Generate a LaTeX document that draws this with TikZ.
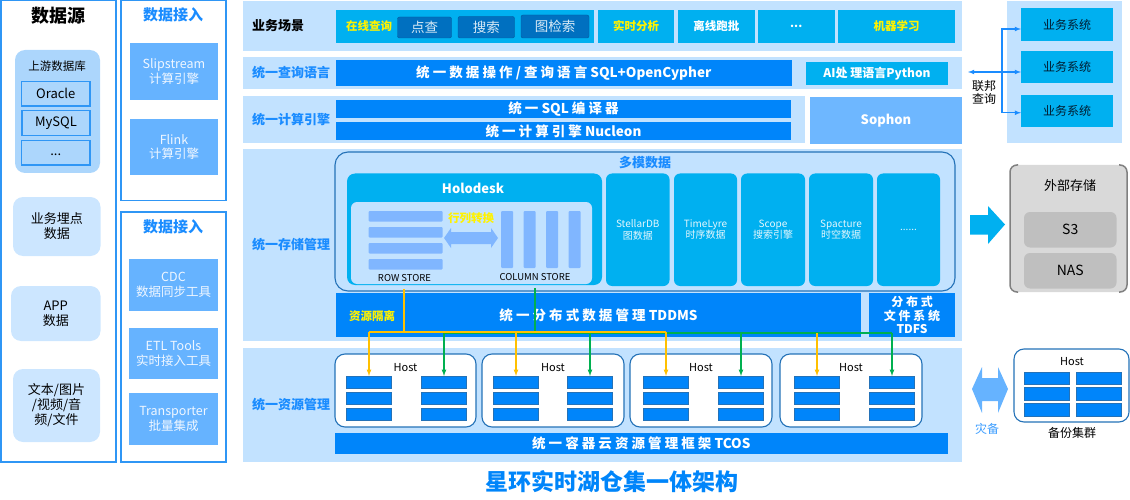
\documentclass[tikz,border=0pt]{standalone}
\usepackage{fontspec}
\setmainfont{Noto Sans CJK SC}
\definecolor{bandblue}{HTML}{C2E2FF}
\definecolor{deepblue}{HTML}{0085FA}
\definecolor{midblue}{HTML}{66B3FF}
\definecolor{skyblue}{HTML}{00B0F0}
\definecolor{darkblue}{HTML}{0070C0}
\definecolor{paleblue}{HTML}{CCE6FF}
\definecolor{groupblue}{HTML}{ACD6FC}
\definecolor{lineblue}{HTML}{2F96F5}
\definecolor{hostline}{HTML}{2472B8}
\definecolor{labelblue}{HTML}{1A8CFF}
\definecolor{storeblue}{HTML}{80B6FF}
\definecolor{oline}{HTML}{FFC000}
\definecolor{gline}{HTML}{00B050}
\tikzset{
	fs/.style={font=\fontsize{#1}{\fpeval{round(#1*1.15,1)}}\selectfont},
	fb/.style={font=\fontsize{#1}{\fpeval{round(#1*1.15,1)}}\selectfont\bfseries},
	sz/.style 2 args={minimum width=#1, minimum height=#2},
	block/.style={anchor=north west, inner sep=0, outer sep=0, align=center},
	frame/.style={block, draw=lineblue, line width=1.5},
	band/.style={block, fill=bandblue},
	bar/.style={block, fill=deepblue, text=white, fb=13.5},
	cyanbox/.style={block, fill=skyblue, text=white, fb=11.5},
	engine/.style={block, fill=midblue, text=white!90!midblue, fs=12.5},
	source/.style={block, fill=paleblue, rounded corners=10, fs=13},
	dbbox/.style={block, draw=lineblue, line width=1.2, fs=13},
	query/.style={block, fill=darkblue, draw=darkblue!80!black, line width=0.4, rounded corners=2, text=white!85!darkblue, fs=13.5},
	cell/.style={block, fill=skyblue, rounded corners=6, text=white!90!skyblue, fs=10},
	host/.style={block, fill=white, draw=hostline, line width=1.1, rounded corners=10},
	chunk/.style={block, fill=deepblue, draw=hostline, line width=0.8, minimum width=45, minimum height=12.5},
	rowbar/.style={block, fill=storeblue, rounded corners=1, minimum width=74, minimum height=10.5},
	colbar/.style={block, fill=storeblue, rounded corners=1, minimum width=12, minimum height=57},
	system/.style={block, fill=skyblue, text=black!75!darkblue, fs=12, minimum width=92},
	disk/.style={block, fill=black!25, rounded corners=6, fs=14, minimum width=92.5, minimum height=35.5},
	layer/.style={anchor=west, inner sep=0, text=labelblue, fb=13},
	plain/.style={inner sep=0, align=center, fs=11},
	owire/.style={oline, line width=1.2},
	gwire/.style={gline, line width=1.2},
	oarrow/.style={owire, -latex},
	garrow/.style={gwire, -latex},
	fedline/.style={labelblue, line width=1.1}
}
\begin{document}
\begin{tikzpicture}[x=1pt, y=-1pt]
	\useasboundingbox (0,0) rectangle (1130,500);

	% Datakilder
	\node[frame, sz={115}{461}] (srcframe) at (0.75,0.75) {};
	\node[inner sep=0, fb=18] (srctitle) at (58,16) {数据源};
	\node[block, fill=groupblue, rounded corners=10, sz={85}{123}] (upstream) at (15,50) {};
	\node[plain, fs=11.5] (upstitle) at (57,66) {上游数据库};
	\node[dbbox, sz={68.5}{24.5}] (oracle) at (21.5,81.5) {Oracle};
	\node[dbbox, sz={68}{25}] (mysql) at (22,110.5) {MySQL};
	\node[dbbox, sz={68.5}{24.5}] (moredb) at (21.5,140.5) {\raisebox{-5pt}{...}};
	\node[source, sz={87.5}{59}] (bizdata) at (13,197) {业务埋点\\数据};
	\node[source, sz={89.5}{55}] (appdata) at (11,286) {APP\\数据};
	\node[source, sz={87}{73}] (filedata) at (13,369) {文本/图片\\/视频/音\\频/文件};

	% Dataimport
	\node[frame, sz={105}{199.5}] (ingestA) at (121,0.75) {};
	\node[inner sep=0, text=labelblue, fb=15] (ingestAtitle) at (173,15) {数据接入};
	\node[engine, sz={88}{57}] (slipstream) at (130,43) {Slipstream\\计算引擎};
	\node[engine, sz={88}{56}] (flink) at (130,119) {Flink\\计算引擎};
	\node[frame, sz={105}{250}] (ingestB) at (121,212) {};
	\node[inner sep=0, text=labelblue, fb=15] (ingestBtitle) at (173,227) {数据接入};
	\node[engine, sz={89}{52}] (cdc) at (129,259) {CDC\\数据同步工具};
	\node[engine, sz={89}{51}] (etl) at (129,328) {ETL Tools\\实时接入工具};
	\node[engine, sz={89}{52}] (transporter) at (129,393) {Transporter\\批量集成};

	% Bakgrunnsbelter
	\node[band, sz={719}{50}] (bandscene) at (243,1) {};
	\node[band, sz={719}{31.5}] (bandquery) at (243,57.5) {};
	\node[band, sz={562}{47}] (bandcompute) at (243,96) {};
	\node[band, sz={719}{192}] (bandstore) at (243,149) {};
	\node[band, sz={719}{113.5}] (bandres) at (243,348) {};
	\node[layer, text=black] (scenelabel) at (252,26) {业务场景};
	\node[layer] (querylabel) at (252,73) {统一查询语言};
	\node[layer] (computelabel) at (252,120) {统一计算引擎};
	\node[layer] (storelabel) at (252,245) {统一存储管理};
	\node[layer] (reslabel) at (252,405) {统一资源管理};

	% Forretningsscenarier
	\node[cyanbox, sz={258}{33}] (online) at (336,10) {};
	\node[inner sep=0, text=yellow, fb=11.5] (onlinelabel) at (369,26.5) {在线查询};
	\node[query, sz={54}{21}] (point) at (397.5,17) {点查};
	\node[query, sz={56.5}{21.5}] (search) at (458,16.5) {搜索};
	\node[query, sz={68}{23}] (graph) at (521,15) {图检索};
	\node[cyanbox, text=yellow, sz={76}{33}] (realtime) at (598,10) {实时分析};
	\node[cyanbox, sz={76.5}{33}] (offline) at (678,10) {离线跑批};
	\node[cyanbox, sz={76.5}{33}] (morescene) at (758,10) {...};
	\node[cyanbox, text=yellow, sz={117}{33}] (mlearn) at (838,10) {机器学习};

	% Spørrespråk og beregning
	\node[bar, sz={455.5}{25.5}] (sqlbar) at (336,60.5) {统 一 数 据 操 作 / 查 询 语 言 SQL+OpenCypher};
	\node[cyanbox, fb=12, sz={142}{23}] (aibar) at (806,62) {AI处 理语言Python};
	\node[bar, sz={455}{18}] (compiler) at (336,100) {统 一 SQL 编 译 器};
	\node[bar, sz={455}{18.5}] (nucleon) at (336,122) {统 一 计 算 引 擎 Nucleon};
	\node[block, fill=midblue!95!white, text=white, fb=13, sz={152}{47}] (sophon) at (810,97) {Sophon};

	% Multimodell
	\node[block, draw=hostline, line width=1.1, rounded corners=13, sz={620}{139}] (modelframe) at (335,152) {};
	\node[inner sep=0, text=labelblue, fb=13] (modeltitle) at (645,163) {多模数据};
	\node[block, fill=skyblue, rounded corners=8, sz={255}{111.5}] (holodesk) at (347,173.5) {};
	\node[inner sep=0, text=white, fb=13] (holotitle) at (473,188) {Holodesk};
	\node[block, fill=bandblue, rounded corners=6, sz={241}{82}] (holoinner) at (351,202) {};
	\node[rowbar] (rowA) at (368.5,211) {};
	\node[rowbar] (rowB) at (368.5,227) {};
	\node[rowbar] (rowC) at (368.5,243) {};
	\node[rowbar] (rowD) at (368.5,259) {};
	\node[colbar] (colA) at (501,211) {};
	\node[colbar] (colB) at (523.5,211) {};
	\node[colbar] (colC) at (546,211) {};
	\node[colbar] (colD) at (568.5,211) {};
	\fill[storeblue] (444,238) -- (451,228) -- (451,232) -- (491,232) -- (491,228) -- (498,238) -- (491,248) -- (491,244) -- (451,244) -- (451,248) -- cycle;
	\node[inner sep=0, text=yellow, fb=11.5] (convert) at (471,218) {行列转换};
	\node[plain, fs=9.5] (rowlabel) at (404.5,278.5) {ROW STORE};
	\node[plain, fs=9.5] (collabel) at (535,277.5) {COLUMN STORE};
	\node[cell, sz={63.5}{112.5}] (stellar) at (606,173.5) {StellarDB\\图数据};
	\node[cell, sz={63}{112.5}] (timelyre) at (674,173.5) {TimeLyre\\时序数据};
	\node[cell, sz={64}{112.5}] (scope) at (741,173.5) {Scope\\搜索引擎};
	\node[cell, sz={64}{112.5}] (spacture) at (809,173.5) {Spacture\\时空数据};
	\node[cell, sz={63}{112.5}] (morecell) at (877,173.5) {......};

	% TDDMS og TDFS
	\node[bar, sz={525}{44}] (tddms) at (336,293) {统 一 分 布 式 数 据 管 理 TDDMS};
	\node[inner sep=0, text=yellow, fb=11.5] (isolate) at (372,316) {资源隔离};
	\node[bar, fb=12, sz={86}{44}] (tdfs) at (869,293) {分 布 式\\文 件 系 统\\TDFS};

	% Verter
	\node[host, sz={141}{73}] (hostA) at (335,354) {};
	\node[host, sz={142}{73}] (hostB) at (482,354) {};
	\node[host, sz={142}{73}] (hostC) at (630,354) {};
	\node[host, sz={142}{73}] (hostD) at (780,354) {};
	\node[plain] (hostAlabel) at (405.5,368) {Host};
	\node[plain] (hostBlabel) at (553,368) {Host};
	\node[plain] (hostClabel) at (701,368) {Host};
	\node[plain] (hostDlabel) at (851,368) {Host};
	\node[chunk] (aL1) at (346.5,376) {}; \node[chunk] (aL2) at (346.5,392) {}; \node[chunk] (aL3) at (346.5,408) {};
	\node[chunk] (aR1) at (421.5,376) {}; \node[chunk] (aR2) at (421.5,392) {}; \node[chunk] (aR3) at (421.5,408) {};
	\node[chunk] (bL1) at (493.5,376) {}; \node[chunk] (bL2) at (493.5,392) {}; \node[chunk] (bL3) at (493.5,408) {};
	\node[chunk] (bR1) at (567.5,376) {}; \node[chunk] (bR2) at (567.5,392) {}; \node[chunk] (bR3) at (567.5,408) {};
	\node[chunk] (cL1) at (643.5,376) {}; \node[chunk] (cL2) at (643.5,392) {}; \node[chunk] (cL3) at (643.5,408) {};
	\node[chunk] (cR1) at (718.5,376) {}; \node[chunk] (cR2) at (718.5,392) {}; \node[chunk] (cR3) at (718.5,408) {};
	\node[chunk] (dL1) at (794.5,376) {}; \node[chunk] (dL2) at (794.5,392) {}; \node[chunk] (dL3) at (794.5,408) {};
	\node[chunk] (dR1) at (869.5,376) {}; \node[chunk] (dR2) at (869.5,392) {}; \node[chunk] (dR3) at (869.5,408) {};
	\node[bar, sz={612.5}{20.5}] (tcos) at (335,433) {统 一 容 器 云 资 源 管 理 框 架 TCOS};

	% Ruting til verter
	\coordinate (ostart) at (404,289);
	\coordinate (gstart) at (535,288);
	\coordinate (obus) at (404,332);
	\coordinate (gbus) at (535,333);
	\draw[gwire] (gstart) -- (gbus);
	\draw[gwire] (gbus -| aR1.north) -- (gbus -| dR1.north);
	\draw[owire] (ostart) -- (obus);
	\draw[owire] (obus -| aL1.north) -- (obus -| cL1.north);
	\draw[oarrow] (obus -| aL1.north) -- (aL1.north);
	\draw[oarrow] (obus -| bL1.north) -- (bL1.north);
	\draw[oarrow] (obus -| cL1.north) -- (cL1.north);
	\draw[oarrow] (gbus -| dL1.north) -- (dL1.north);
	\draw[garrow] (gbus -| aR1.north) -- (aR1.north);
	\draw[garrow] (gbus -| bR1.north) -- (bR1.north);
	\draw[garrow] (gbus -| cR1.north) -- (cR1.north);
	\draw[garrow] (gbus -| dR1.north) -- (dR1.north);

	% Forretningssystemer
	\node[band, sz={115}{142}] (sysband) at (1007,1) {};
	\node[system, minimum height=33] (sysA) at (1021,8) {业务系统};
	\node[system, minimum height=32] (sysB) at (1021,51) {业务系统};
	\node[system, minimum height=31.5] (sysC) at (1021,95.5) {业务系统};
	\coordinate (fedjoint) at (1002,72);
	\coordinate (fedend) at (968,72);
	\draw[fedline, -latex] (fedjoint) -- (fedend);
	\draw[fedline, -latex] (fedjoint) |- ([yshift=-4.5pt]sysA.west);
	\draw[fedline, -latex] (fedjoint) -- ([yshift=-5pt]sysB.west);
	\draw[fedline, -latex] (fedjoint) |- ([yshift=-1.5pt]sysC.west);
	\node[plain, fs=12] (fedlabel) at (984,92.5) {联邦\\查询};

	% Ekstern lagring
	\fill[skyblue] (970,215) -- (988,215) -- (988,206) -- (1005,224.5) -- (988,244) -- (988,234.5) -- (970,234.5) -- cycle;
	\node[block, fill=black!15, rounded corners=8, sz={117}{127}] (extbox) at (1010,165) {};
	\draw[black!50, line width=1.5, rounded corners=7] (1018,165) -- (1010,165) -- (1010,292) -- (1018,292);
	\draw[black!50, line width=1.5, rounded corners=7] (1119,165) -- (1127,165) -- (1127,292) -- (1119,292);
	\node[plain, fs=13] (extlabel) at (1070,186) {外部存储};
	\node[disk] (sthree) at (1024,212) {S3};
	\node[disk] (nas) at (1024,253) {NAS};

	% Katastrofe og backup
	\fill[midblue] (972,389) -- (982,367) -- (982,378) -- (998,378) -- (998,367) -- (1008,389) -- (998,413) -- (998,401) -- (982,401) -- (982,413) -- cycle;
	\node[plain, fs=12, text=labelblue!85!white] (drlabel) at (987,429) {灾备};
	\node[host, sz={115}{73}] (backup) at (1014,349) {};
	\node[plain] (backuplabel) at (1072,362) {Host};
	\node[chunk] (eL1) at (1024,372) {}; \node[chunk] (eL2) at (1024,387.5) {}; \node[chunk] (eL3) at (1024,403.5) {};
	\node[chunk] (eR1) at (1076,372) {}; \node[chunk] (eR2) at (1076,387.5) {}; \node[chunk] (eR3) at (1076,403.5) {};
	\node[plain, fs=12] (backupname) at (1072,433) {备份集群};

	% Tittel
	\node[inner sep=0, text=deepblue, fb=23] (maintitle) at (611.5,482) {星环实时湖仓集一体架构};
\end{tikzpicture}
\end{document}
